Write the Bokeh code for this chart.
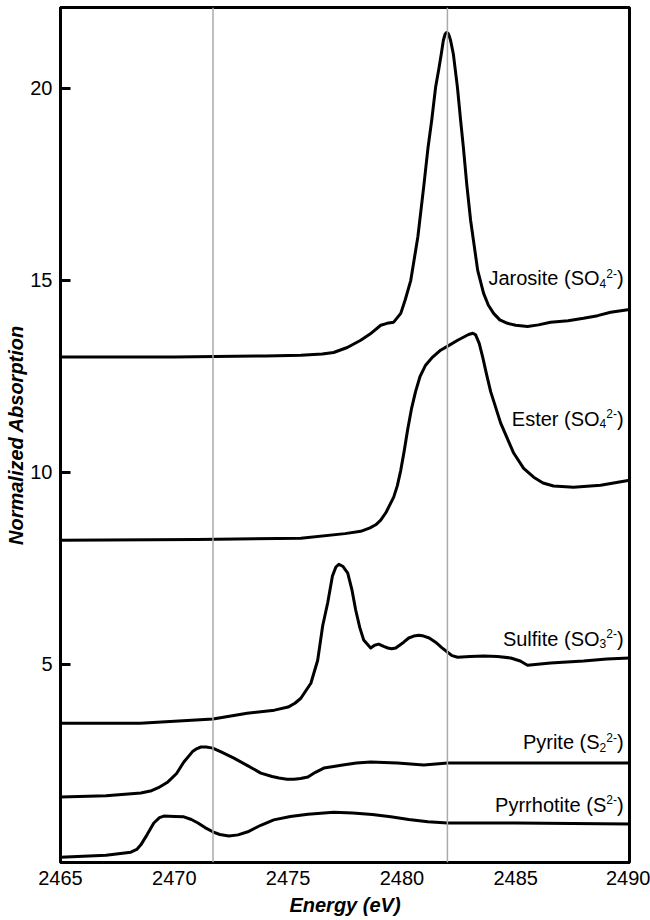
from bokeh.plotting import figure
from bokeh.models import Range1d, FixedTicker, Span
from bokeh.core.properties import value
from bokeh.embed import file_html
from bokeh.resources import INLINE

# ---------------- data ----------------
jarosite_e = [2465.0, 2470.0, 2474.0, 2475.56, 2476.5, 2477.0, 2477.6, 2478.19, 2478.6, 2479.07,
              2479.35, 2479.64, 2479.95, 2480.15, 2480.39, 2480.70, 2480.96, 2481.15, 2481.31,
              2481.48, 2481.62, 2481.73, 2481.82, 2481.90, 2481.97, 2482.05, 2482.14, 2482.26,
              2482.44, 2482.58, 2482.70, 2482.85, 2483.02, 2483.33, 2483.59, 2483.8, 2484.03,
              2484.3, 2484.64, 2485.0, 2485.52, 2486.0, 2486.53, 2487.3, 2487.98, 2488.6,
              2489.17, 2490.0]
jarosite_a = [13.0, 13.0, 13.03, 13.05, 13.08, 13.12, 13.25, 13.44, 13.6, 13.83,
              13.88, 13.91, 14.14, 14.5, 15.0, 16.13, 17.45, 18.47, 19.17,
              20.03, 20.5, 20.9, 21.25, 21.42, 21.46, 21.42, 21.25, 20.9,
              20.03, 19.17, 18.47, 17.5, 16.56, 15.26, 14.66, 14.35, 14.14,
              13.97, 13.88, 13.83, 13.8, 13.84, 13.91, 13.95, 14.01, 14.08,
              14.17, 14.24]

ester_e = [2465.0, 2471.0, 2475.56, 2477.5, 2478.19, 2478.6, 2478.85, 2479.07, 2479.3, 2479.64,
           2479.8, 2479.95, 2480.1, 2480.25, 2480.42, 2480.60, 2480.8, 2481.04, 2481.35, 2481.70,
           2482.05, 2482.45, 2482.93, 2483.12, 2483.24, 2483.40, 2483.55, 2483.72, 2483.90,
           2484.34, 2484.91, 2485.35, 2485.79, 2486.2, 2486.66, 2487.54, 2488.73, 2490.0]
ester_a = [8.23, 8.25, 8.28, 8.4, 8.46, 8.55, 8.63, 8.75, 8.95, 9.35,
           9.65, 10.05, 10.55, 11.1, 11.65, 12.1, 12.5, 12.79, 13.0, 13.18,
           13.3, 13.44, 13.59, 13.62, 13.58, 13.35, 13.0, 12.55, 12.1,
           11.28, 10.5, 10.1, 9.87, 9.72, 9.64, 9.61, 9.66, 9.79]

sulfite_e = [2465.0, 2468.5, 2471.7, 2473.2, 2474.4, 2475.0, 2475.3, 2475.56, 2476.0, 2476.3,
             2476.52, 2476.74, 2476.95, 2477.1, 2477.23, 2477.4, 2477.62, 2477.8, 2477.97,
             2478.15, 2478.32, 2478.63, 2478.8, 2478.98, 2479.2, 2479.38, 2479.55, 2479.73,
             2480.08, 2480.3, 2480.52, 2480.75, 2480.96, 2481.2, 2481.48, 2481.75, 2482.01,
             2482.2, 2482.45, 2483.0, 2483.59, 2484.2, 2484.78, 2485.2, 2485.52, 2486.53,
             2487.98, 2489.0, 2490.0]
sulfite_a = [3.46, 3.46, 3.57, 3.72, 3.8, 3.88, 3.98, 4.11, 4.5, 5.1,
             6.0, 6.6, 7.3, 7.53, 7.6, 7.55, 7.37, 6.95, 6.41,
             5.95, 5.63, 5.42, 5.49, 5.52, 5.46, 5.42, 5.4, 5.42,
             5.57, 5.68, 5.73, 5.75, 5.73, 5.68, 5.57, 5.43, 5.31,
             5.22, 5.18, 5.2, 5.21, 5.2, 5.16, 5.08, 4.97, 5.03,
             5.08, 5.13, 5.16]

pyrite_e = [2465.0, 2467.0, 2468.53, 2469.0, 2469.3, 2469.72, 2470.1, 2470.42, 2470.8, 2471.0,
            2471.17, 2471.4, 2471.69, 2472.1, 2472.62, 2473.2, 2473.80, 2474.3, 2474.6, 2474.95,
            2475.25, 2475.55, 2475.87, 2476.2, 2476.57, 2477.0, 2477.40, 2478.0, 2478.63,
            2479.8, 2480.96, 2482.01, 2485.08, 2490.0]
pyrite_a = [1.54, 1.57, 1.64, 1.7, 1.78, 1.93, 2.15, 2.45, 2.72, 2.8,
            2.84, 2.84, 2.81, 2.7, 2.55, 2.36, 2.16, 2.07, 2.03, 2.0,
            2.0, 2.02, 2.06, 2.18, 2.29, 2.33, 2.37, 2.42, 2.45,
            2.42, 2.37, 2.42, 2.42, 2.42]

pyrrhotite_e = [2465.0, 2467.0, 2468.09, 2468.35, 2468.53, 2468.8, 2469.10, 2469.35, 2469.54,
                2470.0, 2470.42, 2470.75, 2471.04, 2471.35, 2471.69, 2472.0, 2472.40, 2472.8,
                2473.23, 2473.8, 2474.37, 2475.1, 2475.87, 2477.0, 2477.84, 2478.7, 2479.51,
                2480.3, 2481.14, 2482.01, 2485.0, 2490.0]
pyrrhotite_a = [-0.03, 0.02, 0.1, 0.17, 0.29, 0.55, 0.86, 1.0, 1.04,
                1.03, 1.02, 0.95, 0.86, 0.74, 0.63, 0.56, 0.52, 0.55,
                0.63, 0.8, 0.94, 1.03, 1.09, 1.14, 1.12, 1.08, 1.02,
                0.95, 0.89, 0.86, 0.86, 0.83]

ref_energies = [2471.7, 2482.0]
x_ticks = [2465, 2470, 2475, 2480, 2485, 2490]
y_ticks = [5, 10, 15, 20]

label_main = ["Jarosite (SO", "Ester (SO", "Sulfite (SO", "Pyrite (S", "Pyrrhotite (S"]
label_sub = ["4", "4", "3", "2", ""]
label_sup = ["2-", "2-", "2-", "2-", "2-"]

series = [(jarosite_e, jarosite_a), (ester_e, ester_a), (sulfite_e, sulfite_a),
          (pyrite_e, pyrite_a), (pyrrhotite_e, pyrrhotite_a)]

# ---------------- layout / style ----------------
FONT = "Liberation Sans"
BIG = 20
SMALL = 12
label_baselines = [15.05, 11.39, 5.66, 2.96, 1.34]
label_x = 2489.74

p = figure(width=650, height=920, output_backend="svg", toolbar_location=None,
           x_range=Range1d(2465, 2490), y_range=Range1d(-0.17, 22.11),
           min_border_left=60, min_border_right=21, min_border_top=7, min_border_bottom=58)
p.background_fill_color = "white"
p.border_fill_color = "white"
p.outline_line_color = "black"
p.outline_line_width = 3
p.xgrid.visible = False
p.ygrid.visible = False

for v in ref_energies:
    p.add_layout(Span(location=v, dimension="height", line_color="#aaaaaa", line_width=1.5))

for e, a in series:
    p.line(e, a, line_color="black", line_width=3, line_join="round", line_cap="round")

# composite labels (main text + subscript + superscript + ")")
def w(text, size):
    widths = {"2": 0.556, "3": 0.556, "4": 0.556, "-": 0.333, ")": 0.333}
    return sum(widths[c] for c in text) * size

for main, sub, sup, yb in zip(label_main, label_sub, label_sup, label_baselines):
    off = 0.0
    p.text(x=[label_x], y=[yb], text=[")"], text_font=value(FONT), text_font_size=f"{BIG}px",
           text_align="right", text_baseline="alphabetic", text_color="black", x_offset=0)
    off += w(")", BIG)
    p.text(x=[label_x], y=[yb], text=[sup], text_font=value(FONT), text_font_size=f"{SMALL}px",
           text_align="right", text_baseline="alphabetic", text_color="black",
           x_offset=-off, y_offset=-5)
    off += w(sup, SMALL)
    if sub:
        p.text(x=[label_x], y=[yb], text=[sub], text_font=value(FONT), text_font_size=f"{SMALL}px",
               text_align="right", text_baseline="alphabetic", text_color="black",
               x_offset=-off, y_offset=5)
        off += w(sub, SMALL)
    p.text(x=[label_x], y=[yb], text=[main], text_font=value(FONT), text_font_size=f"{BIG}px",
           text_align="right", text_baseline="alphabetic", text_color="black", x_offset=-off)

# axes
ax = p.xaxis[0]
ax.ticker = FixedTicker(ticks=x_ticks)
ax.major_tick_in = 0
ax.major_tick_out = 0
ax.minor_tick_in = 0
ax.minor_tick_out = 0
ax.axis_line_width = 3
ax.axis_line_color = "black"
ax.major_label_text_font = FONT
ax.major_label_text_font_size = f"{BIG}px"
ax.major_label_text_color = "black"
ax.major_label_standoff = 8
ax.axis_label = "Energy (eV)"
ax.axis_label_text_font = FONT
ax.axis_label_text_font_size = f"{BIG}px"
ax.axis_label_text_font_style = "bold italic"
ax.axis_label_text_color = "black"
ax.axis_label_standoff = 6

ay = p.yaxis[0]
ay.ticker = FixedTicker(ticks=y_ticks)
ay.major_tick_in = 10
ay.major_tick_out = 0
ay.minor_tick_in = 0
ay.minor_tick_out = 0
ay.major_tick_line_width = 3
ay.axis_line_width = 3
ay.axis_line_color = "black"
ay.major_label_text_font = FONT
ay.major_label_text_font_size = f"{BIG}px"
ay.major_label_text_color = "black"
ay.major_label_standoff = 8
ay.axis_label = "Normalized Absorption"
ay.axis_label_text_font = FONT
ay.axis_label_text_font_size = f"{BIG}px"
ay.axis_label_text_font_style = "bold italic"
ay.axis_label_text_color = "black"
ay.axis_label_standoff = 0

open("out.html", "w").write(file_html(p, INLINE))
